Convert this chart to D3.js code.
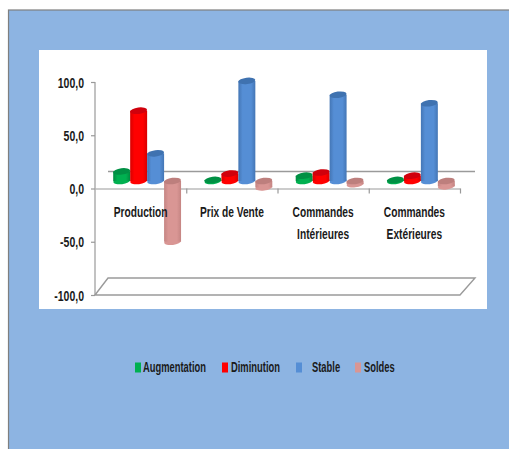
<!DOCTYPE html>
<html>
<head>
<meta charset="utf-8">
<script src="https://cdnjs.cloudflare.com/ajax/libs/d3/7.8.5/d3.min.js"></script>
<style>
html, body { margin: 0; padding: 0; background: #fff; overflow: hidden; }
text { font-family: "Liberation Sans", sans-serif; font-weight: bold; fill: #1a1a1a; }
</style>
</head>
<body>
<script>
var categories = [["Production"], ["Prix de Vente"], ["Commandes", "Intérieures"], ["Commandes", "Extérieures"]];
var seriesNames = ["Augmentation", "Diminution", "Stable", "Soldes"];
var augmentation = [9, 1, 5, 1];
var diminution = [66, 7, 8, 5];
var stable = [26, 94, 81, 73];
var soldes = [-57, -6, -3, -5];
var yTicks = [-100, -50, 0, 50, 100];

var seriesValues = [augmentation, diminution, stable, soldes];
var colors = ["#00b050", "#ff0000", "#558ed5", "#d99694"];
var darks = ["#009044", "#d0000c", "#3f72b0", "#bd7f7d"];
var edges = ["#008a40", "#d80000", "#4476b5", "#c58583"];

var svg = d3.select("body").append("svg")
    .attr("width", 509)
    .attr("height", 449);

var defs = svg.append("defs");
colors.forEach(function(c, i) {
  var g = defs.append("linearGradient").attr("id", "cyl" + i);
  g.append("stop").attr("offset", "0%").attr("stop-color", edges[i]);
  g.append("stop").attr("offset", "25%").attr("stop-color", c);
  g.append("stop").attr("offset", "75%").attr("stop-color", c);
  g.append("stop").attr("offset", "100%").attr("stop-color", edges[i]);
});

// background panel
svg.append("rect").attr("x", 8.5).attr("y", 10).attr("width", 520).attr("height", 460)
    .attr("fill", "#8db4e2").attr("stroke", "#7f7f7f").attr("stroke-width", 1.2);
svg.append("rect").attr("x", 39).attr("y", 50).attr("width", 448).attr("height", 259).attr("fill", "#fff");

var left = 95, right = 460, depthX = 13, depthY = 17;

var y = d3.scaleLinear().domain([-100, 100]).range([295, 82]);
var x = d3.scaleBand().domain(d3.range(categories.length)).range([left, right]);
var xTicks = d3.scaleLinear().domain([0, categories.length]).range([left, right]);
var inner = d3.scaleBand().domain(d3.range(seriesNames.length))
    .range([0, x.bandwidth()]).paddingOuter(0.69);

// floor and back line
svg.append("path")
    .attr("d", d3.line()([[left, y(-100)], [left + depthX, y(-100) - depthY], [right + depthX + 2, y(-100) - depthY], [right, y(-100)]]) + "Z")
    .attr("fill", "none").attr("stroke", "#9a9a9a").attr("stroke-width", 1.4);
svg.append("line")
    .attr("x1", left + depthX).attr("x2", right + depthX + 2)
    .attr("y1", y(0) - depthY).attr("y2", y(0) - depthY)
    .attr("stroke", "#9a9a9a").attr("stroke-width", 1.4);

// axes
var yAxis = svg.append("g").attr("transform", "translate(" + left + ",0)")
    .call(d3.axisLeft(y).tickValues(yTicks).tickSize(4).tickSizeOuter(0)
      .tickFormat(function(d) { return d3.format(".1f")(d).replace(".", ",").replace("−", "-"); }));
yAxis.selectAll("text")
    .attr("x", 0).attr("dy", null).attr("y", 5)
    .attr("transform", "translate(-11,0) scale(0.7,1)")
    .style("font-size", "15px");
yAxis.selectAll("path, line").attr("stroke", "#999").attr("stroke-width", 1.2);
yAxis.select(".domain").attr("d", "M0," + y(-100) + "V" + y(100));

var xAxis = svg.append("g").attr("transform", "translate(0," + y(0) + ")")
    .call(d3.axisBottom(xTicks).ticks(categories.length).tickSize(5).tickSizeOuter(0).tickFormat(""));
xAxis.selectAll("path, line").attr("stroke", "#999").attr("stroke-width", 1.2);
xAxis.selectAll(".tick").filter(function(d) { return d === 0; }).remove();

// cylinders
var ry = 3.2, tilt = -7;
var shiftX = depthX / 2, shiftY = depthY / 2 - 1;
var bars = [];
categories.forEach(function(c, ci) {
  seriesValues.forEach(function(vals, si) {
    bars.push({ c: ci, s: si, v: vals[ci] });
  });
});

var bar = svg.selectAll("g.bar").data(bars).enter().append("g").attr("class", "bar")
    .attr("transform", function(d) { return "translate(" + (x(d.c) + inner(d.s) + shiftX) + "," + (-shiftY) + ")"; });
var w = inner.bandwidth();

function cap(sel, yy, fill) {
  sel.append("ellipse")
      .attr("cx", w / 2).attr("cy", yy).attr("rx", w / 2).attr("ry", ry)
      .attr("transform", "rotate(" + tilt + " " + (w / 2) + " " + yy + ")")
      .attr("fill", fill);
}
bar.each(function(d) {
  var g = d3.select(this), fill = "url(#cyl" + d.s + ")";
  var y0 = y(0), y1 = y(d.v);
  var low = Math.max(y0, y1), high = Math.min(y0, y1);
  cap(g, low, colors[d.s]);
  g.append("rect").attr("x", 0).attr("width", w).attr("y", high).attr("height", low - high).attr("fill", fill);
  cap(g, high, darks[d.s]);
});

// category labels
var labels = svg.selectAll("text.cat").data(categories).enter().append("text")
    .attr("class", "cat")
    .attr("text-anchor", "middle")
    .style("font-size", "15px")
    .attr("transform", function(d, i) { return "translate(" + (x(i) + x.bandwidth() / 2) + ",217) scale(0.68,1)"; });
labels.selectAll("tspan").data(function(d) { return d; }).enter().append("tspan")
    .attr("x", 0).attr("y", function(d, i) { return i * 22; }).text(function(d) { return d; });

// legend
var legendX = [135, 222, 296, 355];
var legendText = [143, 231, 312, 364];
seriesNames.forEach(function(name, i) {
  svg.append("rect").attr("x", legendX[i]).attr("y", 362.5).attr("width", 6).attr("height", 10).attr("fill", colors[i]);
  svg.append("text").attr("transform", "translate(" + legendText[i] + ",372) scale(0.67,1)")
      .style("font-size", "14px").text(name);
});
</script>
</body>
</html>
